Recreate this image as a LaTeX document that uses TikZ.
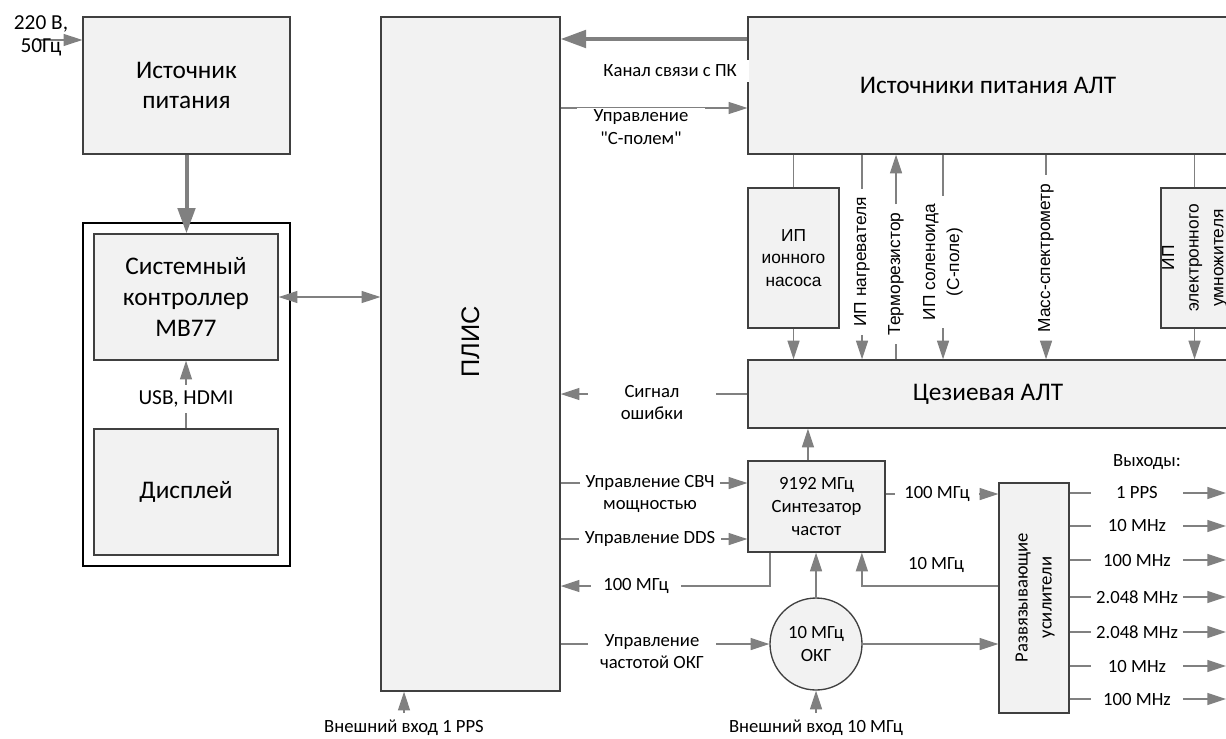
\documentclass[tikz,border=0pt]{standalone}
\usepackage{fontspec}
\setmainfont{Carlito}[Ligatures=TeXOff]
\newfontfamily\arialfont{Liberation Sans}
\usepackage{xcolor}
\usepackage{tikz}
\usetikzlibrary{arrows.meta, shapes.geometric, positioning}

\definecolor{boxfill}{HTML}{F2F2F2}
\definecolor{wiregray}{HTML}{808080}
\definecolor{edgegray}{HTML}{404040}

\begin{document}
\begin{tikzpicture}[x=0.75pt, y=-0.75pt, >={Triangle[length=14pt, width=9pt]},
  box/.style={shape=rectangle, draw=edgegray, fill=boxfill, line width=1pt, inner sep=0pt, align=center, font=\fontsize{19}{23}\selectfont},
  wire/.style={draw=wiregray, line width=1pt},
  fat/.style={draw=wiregray, line width=3pt, -{Triangle[length=19pt, width=13pt]}},
  sig/.style={fill=white, inner xsep=4pt, inner ysep=1pt, align=center, minimum width=96pt, font=\fontsize{14}{17}\selectfont},
  plain/.style={inner sep=1pt, align=center, font=\fontsize{14}{17}\selectfont},
  vlbl/.style={rotate=90, inner sep=6pt, align=center, font=\arialfont\fontsize{13}{18}\selectfont},]

\useasboundingbox (0,0) rectangle (1226,738);

% power supply, controller and display
\node (src) [box, minimum width=155.25pt, minimum height=102.75pt] at (186.5,85.5) {Источник\\питания};
\node (frame) [draw=black, fill=white, line width=1pt, minimum width=155.25pt, minimum height=257.25pt] at (186.5,394.5) {};
\node (ctrl) [box, minimum width=138pt, minimum height=94.5pt] at (186,297) {Системный\\контроллер\\МВ77};
\node (disp) [box, minimum width=138pt, minimum height=94.5pt] at (186,492) {Дисплей};

% FPGA
\node (plis) [box, minimum width=134.25pt, minimum height=505.5pt] at (470.5,354) {};
\node (plislbl) [rotate=90, font=\arialfont\fontsize{19}{23}\selectfont] at (470.5,342) {ПЛИС};

% atomic beam tube and its supplies
\node (altps) [box, minimum width=360pt, minimum height=102.75pt] at (988,85.5) {Источники питания АЛТ};
\node (alt) [box, minimum width=360pt, minimum height=51pt] at (988,394) {Цезиевая АЛТ};
\node (pump) [box, minimum width=68.25pt, minimum height=105pt, font=\arialfont\fontsize{13}{17}\selectfont] at (793.5,258) {ИП\\ионного\\насоса};
\node (mult) [box, minimum width=50.25pt, minimum height=105pt] at (1194.5,258) {};
\node (multlbl) [rotate=90, align=center, font=\arialfont\fontsize{13}{18.5}\selectfont] at (mult.center) {ИП\\электронного\\умножителя};
\node (heat) [vlbl] at (862,262) {ИП нагревателя};
\node (thermo) [vlbl] at (896,274) {Терморезистор};
\node (sol) [vlbl] at (943,262) {ИП соленоида\\(С-поле)};
\node (mass) [vlbl] at (1046,258) {Масс-спектрометр};

% synthesizer, oscillator, amplifiers
\node (synth) [box, minimum width=102.75pt, minimum height=68.25pt, font=\fontsize{14}{17.5}\selectfont] at (816.5,506.5) {9192 МГц\\Синтезатор\\частот};
\node (okg) [box, circle, minimum size=69pt, font=\fontsize{14}{17}\selectfont] at (816,644) {10 МГц\\ОКГ};
\node (amp) [box, minimum width=52.5pt, minimum height=172.5pt] at (1034,598) {};
\node (amplbl) [rotate=90, align=center, font=\fontsize{14}{18}\selectfont] at (1035,597.5) {Развязывающие\\усилители};

% left column links
\coordinate (mains) at (37,40);
\draw[wire, ->] (mains) -- (mains -| src.west);
\node (mainslbl) [align=center, inner sep=0pt, font=\fontsize{16}{17}\selectfont] at (41,36) {220 В,\\50Гц};
\draw[fat] (src.south) -- (src.south |- ctrl.north);
\draw[wire, <->] (ctrl.east) -- (ctrl.east -| plis.west);
\draw[wire, ->] (disp.north) -- (ctrl.south);
\node (usb) [fill=white, inner sep=4pt, font=\fontsize{16}{19}\selectfont] at (186,399) {USB, HDMI};

% top links
\draw[fat] (altps.west |- 0,39) -- (plis.east |- 0,39);
\node (pc) [fill=white, inner xsep=9pt, inner ysep=4pt, anchor=east, font=\fontsize{14}{17}\selectfont] at (749,71) {Канал связи с ПК};
\draw[wire, ->] (plis.east |- 0,108) -- (altps.west |- 0,108);
\node (cfield) [sig] at (641,127) {Управление\\"С-полем"};

% supplies to the tube
\draw[wire] (altps.south -| pump.north) -- (pump.north);
\draw[wire, ->] (pump.south) -- (pump.south |- alt.north);
\draw[wire] (altps.south -| heat.east) -- (heat.east);
\draw[wire, ->] (heat.west) -- (heat.west |- alt.north);
\draw[wire, ->] (thermo.east) -- (thermo.east |- altps.south);
\draw[wire] (alt.north -| thermo.west) -- (thermo.west);
\draw[wire] (altps.south -| sol.east) -- (sol.east);
\draw[wire, ->] (sol.west) -- (sol.west |- alt.north);
\draw[wire] (altps.south -| mass.east) -- (mass.east);
\draw[wire, ->] (mass.west) -- (mass.west |- alt.north);
\draw[wire] (altps.south -| mult.north) -- (mult.north);
\draw[wire, ->] (mult.south) -- (mult.south |- alt.north);

% FPGA links
\draw[wire, ->] (alt.west) -- (alt.west -| plis.east);
\node (err) [sig] at (652,402.5) {Сигнал\\ошибки};
\draw[wire, ->] ([xshift=-6.4pt]synth.north) -- ([xshift=-6.4pt]synth.north |- alt.south);
\draw[wire, ->] (plis.east |- 0,483) -- (synth.west |- 0,483);
\node (mw) [sig] at (650,494) {Управление СВЧ\\мощностью};
\draw[wire, ->] (plis.east |- 0,539) -- (synth.west |- 0,539);
\node (dds) [sig] at (650,539) {Управление DDS};
\draw[wire, ->] ([xshift=-35pt]synth.south) |- (plis.east |- 0,586);
\node (ref100) [sig, minimum width=67pt] at (636,586) {100 МГц};
\draw[wire, ->] (okg.north) -- (okg.north |- synth.south);
\draw[wire, ->] (okg.west -| plis.east) -- (okg.west);
\node (okgctl) [sig] at (652,651.5) {Управление\\частотой ОКГ};

% amplifiers
\draw[wire, ->] (okg.east) -- (okg.east -| amp.west);
\draw[wire, ->] (synth.east |- 0,494) -- (amp.west |- 0,494);
\node (syn100) [sig, minimum width=63pt] at (937,494) {100 МГц};
\draw[wire, ->] (amp.west |- 0,586) -| ([xshift=34pt]synth.south);
\node (fb10) [plain] at (936,565) {10 МГц};
\node (outs) [plain] at (1147,462) {Выходы:};
\foreach \y/\t in {493/1 PPS, 526/10 MHz, 560/100 MHz, 597/2.048 MHz, 632/2.048 MHz, 666/10 MHz, 699/100 MHz}
{
\coordinate (end\y) at (1226,\y);
\draw[wire, ->] (amp.east |- end\y) -- (end\y);
\node (out\y) [sig, minimum width=69pt] at (1137,\y) {\t};
}

% external inputs
\coordinate (pps) at (404,713);
\draw[wire, ->] (pps) -- (pps |- plis.south);
\node (ppslbl) [plain] at (404,728) {Внешний вход 1 PPS};
\coordinate (ext10) at (816,713);
\draw[wire, ->] (ext10) -- (okg.south);
\node (ext10lbl) [plain] at (816,728) {Внешний вход 10 МГц};
\end{tikzpicture}
\end{document}
